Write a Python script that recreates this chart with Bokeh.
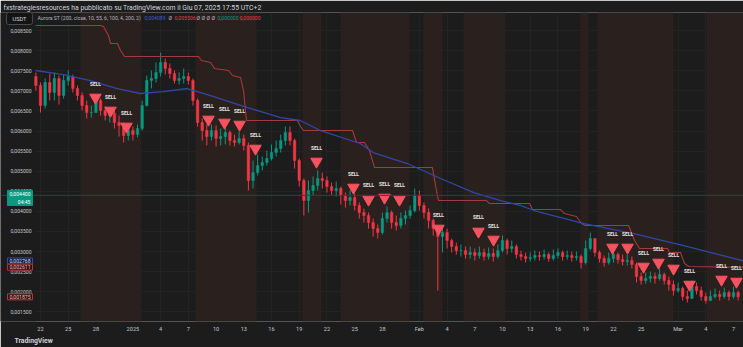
import numpy as np
import pandas as pd
from bokeh.plotting import figure
from bokeh.models import (ColumnDataSource, FixedTicker, BoxAnnotation, Label, Span, Range1d, Title)
from bokeh.embed import file_html
from bokeh.resources import INLINE
from bokeh.core.properties import value

# ---------------- data (USDT, 12h candles from 2024-12-21 12:00) ----------------
first_open = 0.007356
close = [
    0.007132, 0.006634, 0.007206, 0.006957, 0.007306, 0.006883, 0.007256, 0.007356, 0.007057, 0.006883,
    0.006634, 0.006460, 0.006460, 0.006758, 0.006510, 0.006385, 0.006435, 0.006211, 0.006136, 0.005888,
    0.006012, 0.005912, 0.006062, 0.006634, 0.007256, 0.007306, 0.007455, 0.007704, 0.007555, 0.007430,
    0.007256, 0.007306, 0.007356, 0.007256, 0.006758, 0.006211, 0.006012, 0.005863, 0.006012, 0.005813,
    0.005863, 0.005962, 0.005763, 0.005713, 0.005813, 0.005639, 0.004768, 0.004967, 0.005141, 0.005216,
    0.005315, 0.005465, 0.005564, 0.005763, 0.005962, 0.005763, 0.005266, 0.004768, 0.004270, 0.004519,
    0.004644, 0.004818, 0.004768, 0.004619, 0.004519, 0.004569, 0.004395, 0.004270, 0.004345, 0.004146,
    0.003972, 0.003897, 0.003723, 0.003574, 0.003474, 0.003823, 0.003972, 0.003723, 0.003648, 0.003823,
    0.003897, 0.004022, 0.004395, 0.004146, 0.003972, 0.003773, 0.003574, 0.003375, 0.003474, 0.003275,
    0.003126, 0.003026, 0.003026, 0.002927, 0.002977, 0.002902, 0.002977, 0.002877, 0.002952, 0.002877,
    0.003026, 0.003275, 0.003076, 0.003126, 0.002927, 0.002877, 0.002827, 0.002852, 0.002902, 0.002877,
    0.002927, 0.002827, 0.002902, 0.002977, 0.002877, 0.002902, 0.002852, 0.002877, 0.002728, 0.003076,
    0.003325, 0.002977, 0.002827, 0.002728, 0.002827, 0.002927, 0.002802, 0.002753, 0.002778, 0.002678,
    0.002380, 0.002280, 0.002330, 0.002380, 0.002330, 0.002429, 0.002280, 0.002180, 0.002031, 0.002081,
    0.001882, 0.001832, 0.002131, 0.002031, 0.001882, 0.001782, 0.001882, 0.001932, 0.001882, 0.001981,
    0.001882, 0.001981, 0.001875,
]
high = [
    0.007455, 0.007206, 0.007306, 0.007430, 0.007455, 0.007380, 0.007405, 0.007505, 0.007405, 0.007132,
    0.006957, 0.006758, 0.006634, 0.006883, 0.006808, 0.006609, 0.006559, 0.006510, 0.006385, 0.006211,
    0.006136, 0.006112, 0.006161, 0.006758, 0.007380, 0.007505, 0.007704, 0.007953, 0.007803, 0.007679,
    0.007505, 0.007455, 0.007555, 0.007455, 0.007306, 0.006808, 0.006311, 0.006161, 0.006161, 0.006136,
    0.006062, 0.006087, 0.006012, 0.005912, 0.005987, 0.005912, 0.005713, 0.005266, 0.005415, 0.005365,
    0.005514, 0.005664, 0.005763, 0.005912, 0.006112, 0.006112, 0.005813, 0.005315, 0.004818, 0.004768,
    0.004868, 0.005017, 0.004967, 0.004868, 0.004718, 0.004743, 0.004619, 0.004469, 0.004519, 0.004445,
    0.004221, 0.004071, 0.003972, 0.003823, 0.003673, 0.003972, 0.004121, 0.004022, 0.003897, 0.003972,
    0.004022, 0.004146, 0.004569, 0.004519, 0.004221, 0.004071, 0.003823, 0.003624, 0.003624, 0.003574,
    0.003325, 0.003225, 0.003176, 0.003126, 0.003126, 0.003076, 0.003126, 0.003076, 0.003101, 0.003076,
    0.003176, 0.003400, 0.003325, 0.003275, 0.003176, 0.003026, 0.002977, 0.002977, 0.003026, 0.003002,
    0.003051, 0.002977, 0.003051, 0.003076, 0.003026, 0.003026, 0.003002, 0.003002, 0.002927, 0.003275,
    0.003474, 0.003325, 0.003026, 0.002902, 0.002977, 0.003076, 0.002977, 0.002927, 0.002927, 0.002877,
    0.002728, 0.002479, 0.002479, 0.002504, 0.002479, 0.002579, 0.002479, 0.002380, 0.002280, 0.002230,
    0.002131, 0.002031, 0.002280, 0.002230, 0.002131, 0.001981, 0.002031, 0.002081, 0.002031, 0.002106,
    0.002031, 0.002131, 0.002031,
]
low = [
    0.007007, 0.006460, 0.006559, 0.006758, 0.006758, 0.006659, 0.006808, 0.007132, 0.006957, 0.006758,
    0.006510, 0.006311, 0.006335, 0.006460, 0.006385, 0.006261, 0.006211, 0.006062, 0.005863, 0.005713,
    0.005763, 0.005763, 0.005838, 0.006012, 0.006609, 0.007057, 0.007206, 0.007356, 0.007405, 0.007306,
    0.007181, 0.007156, 0.007181, 0.007156, 0.006634, 0.006112, 0.005763, 0.005639, 0.005763, 0.005614,
    0.005639, 0.005664, 0.005639, 0.005614, 0.005664, 0.005514, 0.004519, 0.004569, 0.004892, 0.005017,
    0.005141, 0.005266, 0.005365, 0.005465, 0.005639, 0.005639, 0.005067, 0.004619, 0.003897, 0.003972,
    0.004395, 0.004519, 0.004569, 0.004469, 0.004395, 0.004370, 0.004171, 0.004096, 0.004146, 0.004022,
    0.003823, 0.003723, 0.003574, 0.003375, 0.003325, 0.003424, 0.003723, 0.003574, 0.003524, 0.003574,
    0.003673, 0.003823, 0.003972, 0.004022, 0.003823, 0.003574, 0.003400, 0.002031, 0.002977, 0.003076,
    0.002977, 0.002927, 0.002877, 0.002827, 0.002827, 0.002778, 0.002827, 0.002778, 0.002802, 0.002753,
    0.002827, 0.002977, 0.002927, 0.002977, 0.002827, 0.002778, 0.002728, 0.002753, 0.002778, 0.002778,
    0.002802, 0.002753, 0.002778, 0.002827, 0.002778, 0.002802, 0.002753, 0.002778, 0.002579, 0.002678,
    0.003026, 0.002877, 0.002728, 0.002628, 0.002678, 0.002728, 0.002703, 0.002653, 0.002653, 0.002579,
    0.002230, 0.002180, 0.002205, 0.002230, 0.002205, 0.002280, 0.002180, 0.002031, 0.001907, 0.001981,
    0.001782, 0.001733, 0.001832, 0.001932, 0.001782, 0.001708, 0.001782, 0.001832, 0.001782, 0.001832,
    0.001782, 0.001832, 0.001782,
]

# EMA(200) line read at these days (days since 2024-12-22)
ema_day = [-0.54, 2.5, 5.4, 8.3, 10.8, 13.3, 15.9, 18.4, 22.4, 26.0, 28.1, 30.3, 34.6, 36.0,
           39.7, 43.3, 46.9, 49.8, 52.0, 53.4, 58.8, 64.2, 69.6, 76.08]
ema_val = [0.007505, 0.007405, 0.007256, 0.007057, 0.006933, 0.006982, 0.007057, 0.006883,
           0.006584, 0.006335, 0.006261, 0.006012, 0.005689, 0.005465, 0.005191, 0.004818,
           0.004469, 0.004270, 0.004146, 0.004022, 0.003698, 0.003449, 0.003151, 0.002768]

# Aurora ST trailing line (vertices)
st_day = [-0.54, 6.49, 6.82, 7.36, 7.58, 8.33, 8.66, 9.09, 17.1, 17.42, 18.4, 18.83, 20.35, 20.78,
          21.65, 21.97, 22.29, 27.81, 28.14, 28.46, 33.77, 34.2, 35.06, 35.6, 36.15, 42.42, 42.75,
          43.07, 48.27, 48.59, 52.92, 53.25, 56.28, 56.71, 58.0, 58.55, 58.98, 63.64, 64.29, 64.83,
          67.86, 68.07, 69.26, 69.7, 70.13, 76.08]
st_val = [0.008624, 0.008624, 0.008600, 0.008376, 0.008177, 0.008177, 0.008002, 0.007853, 0.007853,
          0.007754, 0.007704, 0.007555, 0.007505, 0.007380, 0.007331, 0.007007, 0.006261, 0.006261,
          0.006112, 0.006012, 0.006012, 0.005713, 0.005713, 0.005514, 0.005091, 0.005091, 0.004644,
          0.004270, 0.004270, 0.004196, 0.004196, 0.004046, 0.004046, 0.003947, 0.003872, 0.003698,
          0.003648, 0.003648, 0.003275, 0.003076, 0.003076, 0.002977, 0.002977, 0.002703, 0.002628,
          0.002611]

# SELL signals
sell_day = [5.95, 7.58, 9.31, 18.18, 19.91, 21.54, 23.27, 29.87, 33.87, 35.5, 37.23, 38.85,
            43.07, 47.4, 49.03, 61.9, 63.53, 65.26, 66.88, 68.51, 70.24, 73.7, 75.32]
sell_price = [0.006833, 0.006510, 0.006112, 0.006286, 0.006211, 0.006161, 0.005564, 0.005241,
              0.004594, 0.004296, 0.004345, 0.004296, 0.003574, 0.003500, 0.003300, 0.003101,
              0.003101, 0.002628, 0.002728, 0.002579, 0.002180, 0.002305, 0.002255]

# background trend zones (days)
zone_start = [4.33, 16.77, 28.35, 32.47, 41.45, 45.78, 58.44, 60.28, 72.08]
zone_end = [10.93, 23.38, 30.41, 39.94, 43.51, 50.32, 59.31, 68.51, 76.08]

price_ticks = [0.0015, 0.002, 0.0025, 0.003, 0.0035, 0.004, 0.0045, 0.005, 0.0055, 0.006,
               0.0065, 0.007, 0.0075, 0.008, 0.0085]
price_tick_labels = ["0,001500", "0,002000", "0,002500", "0,003000", "0,003500", "0,004000",
                     "0,004500", "0,005000", "0,005500", "0,006000", "0,006500", "0,007000",
                     "0,007500", "0,008000", "0,008500"]
date_tick_days = [0, 3, 6, 10, 13, 16, 19, 22, 25, 28, 31, 34, 37, 41, 44, 47, 50, 53, 56, 59,
                  62, 65, 69, 72, 75]
date_tick_labels = ["22", "25", "28", "2025", "4", "7", "10", "13", "16", "19", "22", "25", "28",
                    "Feb", "4", "7", "10", "13", "16", "19", "22", "25", "Mar", "4", "7"]

header = "fxstrategiesresources ha pubblicato su TradingView.com il Giu 07, 2025 17:55 UTC+2"

# ---------------- build ----------------
BG = "#1c1c1c"
ZONE = "#2a211f"
UP = "#089981"
DOWN = "#f23645"
FONT = "Roboto"
TXT = "#c3c6cc"

X0 = -4.329     # left edge of the canvas (price-scale strip is inside the frame)
X_PLOT0 = -0.541
X1 = 76.08

times = pd.date_range("2024-12-21 12:00", periods=len(close), freq="12h")
days = ((times - pd.Timestamp("2024-12-22")) / pd.Timedelta(days=1)).to_numpy()
c = np.array(close)
o = np.concatenate([[first_open], c[:-1]])
h = np.maximum(np.array(high), np.maximum(o, c))
lo = np.minimum(np.array(low), np.minimum(o, c))
col = np.where(c >= o, UP, DOWN)
src = ColumnDataSource(dict(x=days, o=o, c=c, h=h, l=lo, col=col,
                            top=np.maximum(o, c), bot=np.minimum(o, c)))

p = figure(width=743, height=347, output_backend="svg", toolbar_location=None,
           x_range=Range1d(X0, X1), y_range=Range1d(0.001261, 0.008948),
           min_border_left=0, min_border_right=0, min_border_top=12, min_border_bottom=26,
           background_fill_color=BG, border_fill_color=BG, outline_line_color=None)

p.title.text = header
p.title.text_font = FONT
p.title.text_font_size = "6.85px"
p.title.text_font_style = "normal"
p.title.text_color = "#d1d4dc"
p.title.align = "left"
p.title.offset = 3
p.title.standoff = 2

for s, e in zip(zone_start, zone_end):
    p.add_layout(BoxAnnotation(left=s, right=e, fill_color=ZONE, fill_alpha=1.0,
                               line_color=None, level="underlay"))

p.xgrid.grid_line_color = "#2a2a2a"
p.ygrid.grid_line_color = "#2a2a2a"
p.xgrid.grid_line_alpha = 0.55
p.ygrid.grid_line_alpha = 0.55

p.yaxis.visible = False
p.ygrid.ticker = FixedTicker(ticks=price_ticks)
p.xaxis.ticker = FixedTicker(ticks=date_tick_days)
p.xaxis.major_label_overrides = {d: lab for d, lab in zip(date_tick_days, date_tick_labels)}
ax = p.xaxis[0]
ax.axis_line_color = None
ax.major_tick_line_color = None
ax.minor_tick_line_color = None
ax.major_tick_out = 0
ax.major_label_text_font = FONT
ax.major_label_text_font_size = "5.6px"
ax.major_label_text_color = TXT
ax.major_label_standoff = 4

# price-scale strip
p.add_layout(BoxAnnotation(left=X0, right=X_PLOT0, fill_color=BG, fill_alpha=1.0,
                           line_color=None, level="underlay"))
tsrc = ColumnDataSource(dict(x=[X0] * len(price_ticks), y=price_ticks, t=price_tick_labels))
p.text(x="x", y="y", text="t", x_offset=31, text_align="right", text_baseline="middle",
       text_font=value(FONT), text_font_size="5.1px", text_color=TXT, source=tsrc)

p.add_layout(Span(location=0.0044, dimension="width", line_color="#2c4540", line_width=1))

p.segment(x0="x", y0="h", x1="x", y1="l", color="col", line_width=1, source=src)
p.vbar(x="x", width=0.27, top="top", bottom="bot", fill_color="col", line_color="col",
       line_width=0.5, source=src)

p.line(st_day, st_val, color="#a23b3b", line_width=1.1)
p.line(ema_day, ema_val, color="#3147a6", line_width=1.3)

ssrc = ColumnDataSource(dict(x=sell_day, y=sell_price))
p.scatter(x="x", y="y", marker="inverted_triangle", size=11.5, color="#f7525f", source=ssrc)
p.text(x="x", y="y", text=value("SELL"), y_offset=-14, text_align="center",
       text_baseline="middle", text_font=value(FONT), text_font_size="4.9px",
       text_font_style="bold", text_color="#e6e6e6", source=ssrc)

# legend row (screen coordinates, frame = whole width)
def lab(x, y, text, color, size="5.1px", **kw):
    p.add_layout(Label(x=x, y=y, x_units="screen", y_units="screen", text=text,
                       text_color=color, text_font=FONT, text_font_size=size,
                       text_baseline="middle", **kw))

lab(19, 303, "USDT", "#d1d4dc", size="5.6px", text_align="center",
    background_fill_color="#141414", border_line_color="#4a4a4a", padding=(6, 3),
    border_radius=2)
lab(37, 304, "Aurora ST (200, close, 10, 55, 6, 100, 4, 200, 2)", "#b2b5be")
lab(144, 304, "0,004089", "#3d5bd9")
lab(168, 304, "\u00d8", "#b2b5be")
lab(174, 304, "0,005506", "#f23645")
lab(196, 304, "\u00d8", "#b2b5be")
lab(201, 304, "\u00d8", "#b2b5be")
lab(206, 304, "\u00d8", "#b2b5be")
lab(211, 304, "\u00d8", "#b2b5be")
lab(217, 304, "0,000000", "#089981")
lab(239, 304, "0,000000", "#f23645")

# price-scale markers
def plab(y, text, fg, bg, border, **kw):
    p.add_layout(Label(x=32, y=y, x_units="screen", y_units="data", text=text,
                       text_color=fg, text_font=FONT, text_font_size="5.1px",
                       text_align="right", background_fill_color=bg,
                       border_line_color=border, padding=(2, 1), **kw))

plab(0.0044, "0,004400\n04:45", "#ffffff", "#089981", "#089981", text_baseline="top", y_offset=5)
plab(0.002768, "0,002768", "#c9d2ff", "#151a2e", "#3449a8", text_baseline="middle")
plab(0.002611, "0,002611", "#ffb3b3", "#2a1515", "#a23b3b", text_baseline="middle")
plab(0.001875, "0,001875", "#ffb3b3", "#2a1515", "#b23a3a", text_baseline="middle")

# footer
foot = Title(text="TradingView", align="left", offset=14, text_font=FONT,
             text_font_size="6.8px", text_font_style="bold", text_color="#d1d4dc", standoff=1)
p.add_layout(foot, "below")

open("out.html", "w").write(file_html(p, INLINE))
